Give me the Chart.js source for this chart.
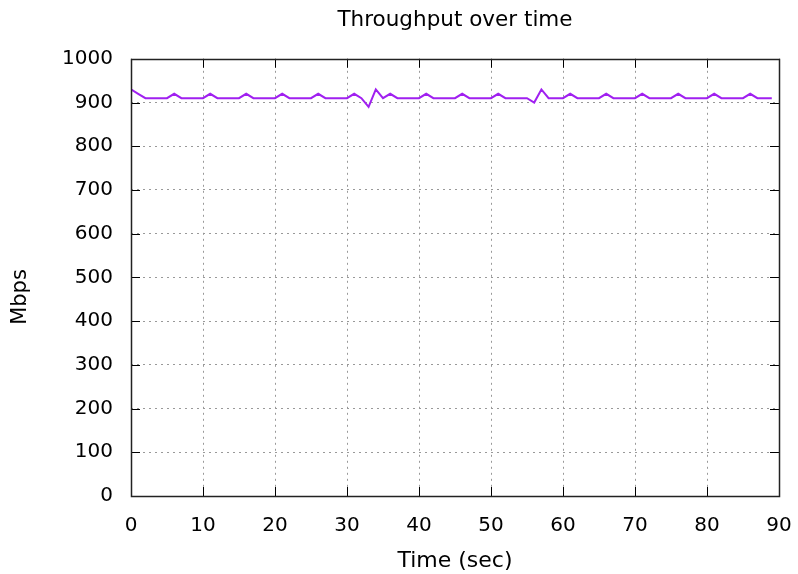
<!DOCTYPE html>
<html><head><meta charset="utf-8">
<script src="https://cdn.jsdelivr.net/npm/chart.js@4/dist/chart.umd.min.js"></script>
<style>html,body{margin:0;padding:0;background:#fff}canvas{display:block}</style>
</head><body>
<canvas id="c" width="798" height="574"></canvas>
<script>
const chartTitle = "Throughput over time";
const xTitle = "Time (sec)";
const yTitle = "Mbps";
const timeSec = [0,1,2,3,4,5,6,7,8,9,10,11,12,13,14,15,16,17,18,19,20,21,22,23,24,25,26,27,28,29,30,31,32,33,34,35,36,37,38,39,40,41,42,43,44,45,46,47,48,49,50,51,52,53,54,55,56,57,58,59,60,61,62,63,64,65,66,67,68,69,70,71,72,73,74,75,76,77,78,79,80,81,82,83,84,85,86,87,88,89];
const throughputMbps = [930,920,910,910,910,910,920,910,910,910,910,920,910,910,910,910,920,910,910,910,910,920,910,910,910,910,920,910,910,910,910,920,910,890,930,910,920,910,910,910,910,920,910,910,910,910,920,910,910,910,910,920,910,910,910,910,900,930,910,910,910,920,910,910,910,910,920,910,910,910,910,920,910,910,910,910,920,910,910,910,910,920,910,910,910,910,920,910,910,910];
const xTickValues = [0,10,20,30,40,50,60,70,80,90];
const yTickValues = [0,100,200,300,400,500,600,700,800,900,1000];

const FONT = "'DejaVu Sans', sans-serif";
const points = timeSec.map((t, i) => ({x: t, y: throughputMbps[i]}));

const frame = {
  id: 'frame',
  afterDatasetsDraw(chart) {
    const {ctx, chartArea: a, scales: {x, y}} = chart;
    ctx.save();
    ctx.strokeStyle = '#000';
    ctx.lineWidth = 1;
    ctx.setLineDash([]);
    ctx.beginPath();
    xTickValues.forEach(v => {
      const px = Math.round(x.getPixelForValue(v)) + 0.5;
      ctx.moveTo(px, a.bottom); ctx.lineTo(px, a.bottom - 9);
      ctx.moveTo(px, a.top); ctx.lineTo(px, a.top + 9);
    });
    yTickValues.forEach(v => {
      const py = Math.round(y.getPixelForValue(v)) + 0.5;
      ctx.moveTo(a.left, py); ctx.lineTo(a.left + 9, py);
      ctx.moveTo(a.right, py); ctx.lineTo(a.right - 9, py);
    });
    ctx.stroke();
    ctx.lineWidth = 1.5;
    ctx.strokeStyle = '#222';
    ctx.strokeRect(Math.round(a.left) + 0.5, Math.round(a.top) + 0.5, Math.round(a.right - a.left), Math.round(a.bottom - a.top));
    // y axis title
    ctx.fillStyle = '#000';
    ctx.font = "21px " + FONT;
    ctx.textAlign = 'center';
    ctx.textBaseline = 'middle';
    ctx.translate(21, 297);
    ctx.rotate(-Math.PI / 2);
    ctx.fillText(yTitle, 0, 0);
    ctx.restore();
  }
};

new Chart(document.getElementById('c'), {
  type: 'line',
  data: {
    datasets: [{
      data: points,
      borderColor: '#a020f0',
      borderWidth: 2,
      pointRadius: 0,
      tension: 0,
      fill: false
    }]
  },
  options: {
    responsive: false,
    animation: false,
    layout: {padding: {left: 0, right: 19, top: 0, bottom: 0}},
    plugins: {
      legend: {display: false},
      tooltip: {enabled: false},
      title: {
        display: true, text: chartTitle, fullSize: false,
        color: '#000', font: {family: FONT, size: 21.5, weight: 'normal'},
        padding: {top: 8, bottom: 25}
      }
    },
    scales: {
      x: {
        type: 'linear', min: 0, max: 90,
        afterBuildTicks: s => { s.ticks = xTickValues.map(v => ({value: v})); },
        afterFit: s => { s.height = 78; s.paddingRight = 0; s.paddingLeft = 0; },
        ticks: {color: '#000', font: {family: FONT, size: 20}, padding: 18, maxRotation: 0, callback: v => String(v)},
        grid: {drawTicks: false, color: c => (c.tick && (c.tick.value === 0 || c.tick.value === 90)) ? 'rgba(0,0,0,0)' : '#999', lineWidth: 1},
        border: {display: false, dash: [2, 4]},
        title: {display: true, text: xTitle, color: '#000', font: {family: FONT, size: 22}, padding: {top: 0, bottom: 0}}
      },
      y: {
        min: 0, max: 1000,
        afterBuildTicks: s => { s.ticks = yTickValues.map(v => ({value: v})); },
        afterFit: s => { s.width = 131; s.paddingTop = 0; s.paddingBottom = 0; },
        ticks: {color: '#000', font: {family: FONT, size: 20}, padding: 18, callback: v => String(v)},
        grid: {drawTicks: false, color: c => (c.tick && (c.tick.value === 0 || c.tick.value === 1000)) ? 'rgba(0,0,0,0)' : '#999', lineWidth: 1},
        border: {display: false, dash: [2, 4]},
        title: {display: false}
      }
    }
  },
  plugins: [frame]
});
</script>
</body></html>
